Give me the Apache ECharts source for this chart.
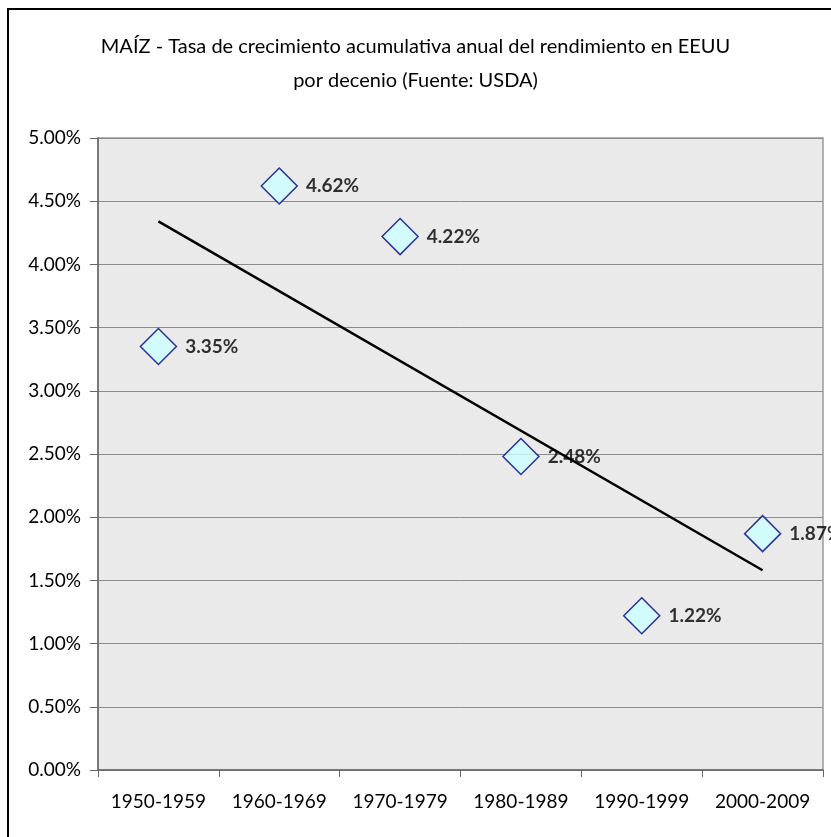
<!DOCTYPE html>
<html>
<head>
<meta charset="utf-8">
<script src="https://cdn.jsdelivr.net/npm/echarts@6/dist/echarts.min.js"></script>
<style>
html,body{margin:0;padding:0;background:#fff;}
#chart{width:831px;height:837px;}
</style>
</head>
<body>
<div id="chart"></div>
<script>
// Data
var categories = ['1950-1959', '1960-1969', '1970-1979', '1980-1989', '1990-1999', '2000-2009'];
var growthPct = [3.35, 4.62, 4.22, 2.48, 1.22, 1.87];
// Linear trend line end points
var trendCats = ['1950-1959', '2000-2009'];
var trendVals = [4.34, 1.58];
var yTicks = { min: 0, max: 5, interval: 0.5 };
var titleText = 'MAÍZ - Tasa de crecimiento acumulativa anual del rendimiento en EEUU\npor decenio (Fuente: USDA)';

var FONT = 'Lato';
var chart = echarts.init(document.getElementById('chart'), null, { renderer: 'canvas' });

var option = {
  backgroundColor: '#ffffff',
  animation: false,
  title: {
    text: titleText,
    left: 'center',
    top: 25,
    textStyle: {
      fontFamily: FONT,
      fontSize: 20,
      fontWeight: 'normal',
      color: '#000',
      lineHeight: 34
    }
  },
  graphic: [{
    type: 'rect',
    shape: { x: 8, y: 9, width: 900, height: 900 },
    style: { fill: 'none', stroke: '#000', lineWidth: 2 },
    silent: true,
    z: 100
  }],
  grid: {
    left: 98,
    right: 8,
    top: 138,
    bottom: 67,
    show: true,
    backgroundColor: '#EAEAEA',
    borderColor: '#9a9a9a',
    borderWidth: 1.5
  },
  xAxis: {
    type: 'category',
    data: categories,
    boundaryGap: true,
    axisLine: { show: true, lineStyle: { color: '#666', width: 1.5 } },
    axisTick: { show: true, interval: 0, alignWithLabel: false, length: 7, lineStyle: { color: '#666', width: 1 } },
    axisLabel: { interval: 0, hideOverlap: false, fontFamily: FONT, fontSize: 19, color: '#000', margin: 22 },
    splitLine: { show: false }
  },
  yAxis: {
    type: 'value',
    min: yTicks.min,
    max: yTicks.max,
    interval: yTicks.interval,
    axisLine: { show: true, lineStyle: { color: '#666', width: 1.5 } },
    axisTick: { show: true, length: 8, lineStyle: { color: '#666', width: 1 } },
    axisLabel: {
      fontFamily: FONT, fontSize: 19, color: '#000', margin: 17,
      formatter: function (v) { return v.toFixed(2) + '%'; }
    },
    splitLine: { show: true, lineStyle: { color: '#8c8c8c', width: 1 } }
  },
  series: [
    {
      name: 'Tendencia',
      type: 'line',
      data: trendCats.map(function (c, i) { return [c, trendVals[i]]; }),
      symbol: 'none',
      lineStyle: { color: '#000', width: 2.5 },
      z: 2
    },
    {
      name: 'Tasa',
      type: 'scatter',
      data: growthPct,
      symbol: 'diamond',
      symbolSize: 36,
      itemStyle: { color: '#CCFFFF', borderColor: '#000080', borderWidth: 1.5 },
      label: {
        show: true,
        position: 'right',
        distance: 8,
        fontFamily: FONT,
        fontSize: 19,
        fontWeight: 'bold',
        color: '#000',
        formatter: function (p) { return p.value.toFixed(2) + '%'; }
      },
      z: 3
    }
  ]
};
chart.setOption(option);
</script>
</body>
</html>
